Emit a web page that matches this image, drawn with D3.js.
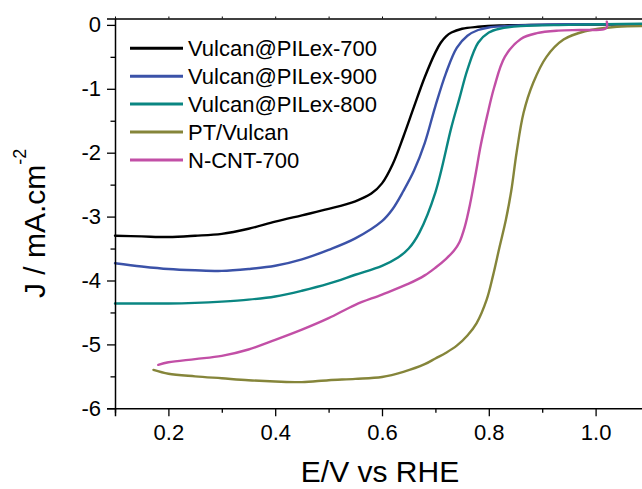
<!DOCTYPE html>
<html>
<head>
<meta charset="utf-8">
<script src="https://cdn.jsdelivr.net/npm/d3@7"></script>
<style>
  html, body { margin: 0; padding: 0; background: #fff; }
  svg { display: block; }
  text { font-family: "Liberation Sans", Arial, sans-serif; fill: #000; }
</style>
</head>
<body>
<svg id="chart" width="642" height="489"></svg>
<script>
// ---------- data ----------
const seriesNames = ["Vulcan@PILex-700", "Vulcan@PILex-900", "Vulcan@PILex-800", "PT/Vulcan", "N-CNT-700"];
const seriesColors = ["#000000", "#3b52a8", "#0a8682", "#85853a", "#c24fa6"];

const e700 = [0.10, 0.15, 0.20, 0.25, 0.30, 0.35, 0.40, 0.45, 0.50, 0.55, 0.58, 0.60, 0.62, 0.64, 0.66, 0.68, 0.70, 0.71, 0.72, 0.73, 0.75, 0.78, 0.82, 0.90, 1.10];
const j700 = [-3.30, -3.31, -3.32, -3.30, -3.27, -3.19, -3.08, -2.98, -2.88, -2.76, -2.64, -2.48, -2.18, -1.75, -1.28, -0.82, -0.43, -0.28, -0.18, -0.12, -0.06, -0.03, -0.01, 0.00, 0.01];

const e900 = [0.10, 0.15, 0.20, 0.25, 0.30, 0.35, 0.40, 0.45, 0.50, 0.55, 0.60, 0.62, 0.64, 0.66, 0.68, 0.70, 0.72, 0.74, 0.76, 0.78, 0.80, 0.83, 0.88, 0.95, 1.10];
const j900 = [-3.73, -3.78, -3.82, -3.84, -3.85, -3.82, -3.77, -3.67, -3.52, -3.34, -3.07, -2.88, -2.60, -2.28, -1.85, -1.27, -0.75, -0.36, -0.17, -0.08, -0.04, -0.02, 0.00, 0.01, 0.01];

const e800 = [0.10, 0.15, 0.20, 0.25, 0.30, 0.35, 0.40, 0.45, 0.50, 0.55, 0.60, 0.63, 0.65, 0.67, 0.70, 0.73, 0.745, 0.76, 0.78, 0.80, 0.82, 0.86, 0.95, 1.10];
const j800 = [-4.36, -4.36, -4.36, -4.35, -4.33, -4.30, -4.25, -4.16, -4.05, -3.91, -3.77, -3.64, -3.50, -3.25, -2.62, -1.60, -1.15, -0.70, -0.28, -0.12, -0.06, -0.02, 0.00, 0.02];

const ePt = [0.172, 0.20, 0.25, 0.30, 0.35, 0.40, 0.45, 0.50, 0.55, 0.60, 0.64, 0.68, 0.70, 0.72, 0.74, 0.76, 0.777, 0.796, 0.808, 0.82, 0.832, 0.842, 0.852, 0.865, 0.883, 0.908, 0.94, 0.98, 1.04, 1.10];
const jPt = [-5.40, -5.46, -5.50, -5.53, -5.56, -5.58, -5.59, -5.56, -5.54, -5.51, -5.43, -5.31, -5.22, -5.13, -5.02, -4.86, -4.67, -4.30, -3.92, -3.48, -3.05, -2.60, -2.00, -1.38, -0.91, -0.50, -0.23, -0.10, -0.03, -0.02];

const eCnt = [0.181, 0.20, 0.25, 0.30, 0.35, 0.40, 0.45, 0.50, 0.55, 0.60, 0.65, 0.68, 0.70, 0.72, 0.735, 0.745, 0.755, 0.765, 0.775, 0.785, 0.797, 0.81, 0.83, 0.86, 0.89, 0.93, 0.97, 1.015, 1.021, 1.021];
const jCnt = [-5.32, -5.28, -5.23, -5.18, -5.08, -4.93, -4.77, -4.59, -4.38, -4.22, -4.05, -3.92, -3.80, -3.66, -3.53, -3.40, -3.16, -2.80, -2.35, -1.88, -1.42, -0.98, -0.50, -0.22, -0.13, -0.09, -0.08, -0.07, -0.04, 0.05];

const xSeries = [e700, e900, e800, ePt, eCnt];
const ySeries = [j700, j900, j800, jPt, jCnt];

const xMajorTicks = [0.2, 0.4, 0.6, 0.8, 1.0];
const xTickLabels = ["0.2", "0.4", "0.6", "0.8", "1.0"];
const xMinorTicks = [0.1, 0.3, 0.5, 0.7, 0.9, 1.1];
const yMajorTicks = [0, -1, -2, -3, -4, -5, -6];
const yTickLabels = ["0", "-1", "-2", "-3", "-4", "-5", "-6"];
const yMinorTicks = [-0.5, -1.5, -2.5, -3.5, -4.5, -5.5];

const xTitle = "E/V vs RHE";
const yTitleMain = "J / mA.cm";
const yTitleSup = "-2";

// ---------- layout ----------
const svg = d3.select("#chart");
const pLeft = 115, pRight = 649, pTop = 18.5, pBottom = 408.3;

const x = d3.scaleLinear().domain([0.1, 1.1]).range([pLeft, pRight]);
const y = d3.scaleLinear().domain([-6, 0.1]).range([pBottom, pTop]);

// curves
const line = d3.line()
  .x(d => x(d[0]))
  .y(d => y(d[1]))
  .curve(d3.curveCatmullRom.alpha(0.5));

const plot = svg.append("g");
xSeries.forEach((xs, i) => {
  const pts = xs.map((v, k) => [v, ySeries[i][k]]);
  plot.append("path")
    .datum(pts)
    .attr("d", line)
    .attr("fill", "none")
    .attr("stroke", seriesColors[i])
    .attr("stroke-width", 2.4)
    .attr("stroke-linejoin", "round")
    .attr("stroke-linecap", "round");
});

// axes
const fontTick = 22;
const xAxis = d3.axisBottom(x).tickValues(xMajorTicks)
  .tickFormat((d, i) => xTickLabels[i]).tickSize(8).tickPadding(8);
const gx = svg.append("g").attr("transform", `translate(0,${pBottom})`).call(xAxis);
gx.select(".domain").attr("stroke-width", 1.5);
gx.selectAll(".tick line").attr("stroke-width", 1.3);
gx.selectAll(".tick text").attr("font-size", fontTick).attr("font-family", "Liberation Sans, Arial, sans-serif").attr("fill", "#000");

const xAxisMinor = d3.axisBottom(x).tickValues(xMinorTicks).tickFormat("").tickSize(4.5);
const gxm = svg.append("g").attr("transform", `translate(0,${pBottom})`).call(xAxisMinor);
gxm.select(".domain").remove();
gxm.selectAll(".tick line").attr("stroke-width", 1.3);

const yAxis = d3.axisLeft(y).tickValues(yMajorTicks)
  .tickFormat((d, i) => yTickLabels[i]).tickSize(8).tickPadding(6);
const gy = svg.append("g").attr("transform", `translate(${pLeft},0)`).call(yAxis);
gy.select(".domain").attr("stroke-width", 1.5);
gy.selectAll(".tick line").attr("stroke-width", 1.3);
gy.selectAll(".tick text").attr("font-size", fontTick).attr("font-family", "Liberation Sans, Arial, sans-serif").attr("fill", "#000");

const yAxisMinor = d3.axisLeft(y).tickValues(yMinorTicks).tickFormat("").tickSize(4.5);
const gym = svg.append("g").attr("transform", `translate(${pLeft},0)`).call(yAxisMinor);
gym.select(".domain").remove();
gym.selectAll(".tick line").attr("stroke-width", 1.3);

// top axis (frame) with tiny ticks
const xAxisTop = d3.axisTop(x).tickValues(xMajorTicks.concat(xMinorTicks)).tickFormat("").tickSize(2).tickSizeOuter(0);
const gt = svg.append("g").attr("transform", `translate(0,${pTop})`).call(xAxisTop);
gt.select(".domain").attr("stroke-width", 1.5);
gt.selectAll(".tick line").attr("stroke-width", 1);

// right frame
const yAxisRight = d3.axisRight(y).tickValues([]).tickSizeOuter(0);
const gr = svg.append("g").attr("transform", `translate(${pRight},0)`).call(yAxisRight);
gr.select(".domain").attr("stroke-width", 1.5);

// titles
svg.append("text")
  .attr("x", (pLeft + pRight) / 2 - 2)
  .attr("y", 482)
  .attr("text-anchor", "middle")
  .attr("font-size", 30)
  .text(xTitle);

const yt = svg.append("text")
  .attr("transform", `translate(45,${(pTop + pBottom) / 2 + 10}) rotate(-90)`)
  .attr("text-anchor", "middle")
  .attr("font-size", 30);
yt.append("tspan").text(yTitleMain);
yt.append("tspan").attr("font-size", 18).attr("dy", -19).text(yTitleSup);

// legend
const legend = svg.append("g");
const legY0 = 48.3, legDY = 27.9;
seriesNames.forEach((name, i) => {
  const cy = legY0 + i * legDY;
  legend.append("line")
    .attr("x1", 130).attr("x2", 183)
    .attr("y1", cy).attr("y2", cy)
    .attr("stroke", seriesColors[i])
    .attr("stroke-width", 3);
  legend.append("text")
    .attr("x", 188)
    .attr("y", cy + 7.9)
    .attr("font-size", 22)
    .text(name);
});
</script>
</body>
</html>
